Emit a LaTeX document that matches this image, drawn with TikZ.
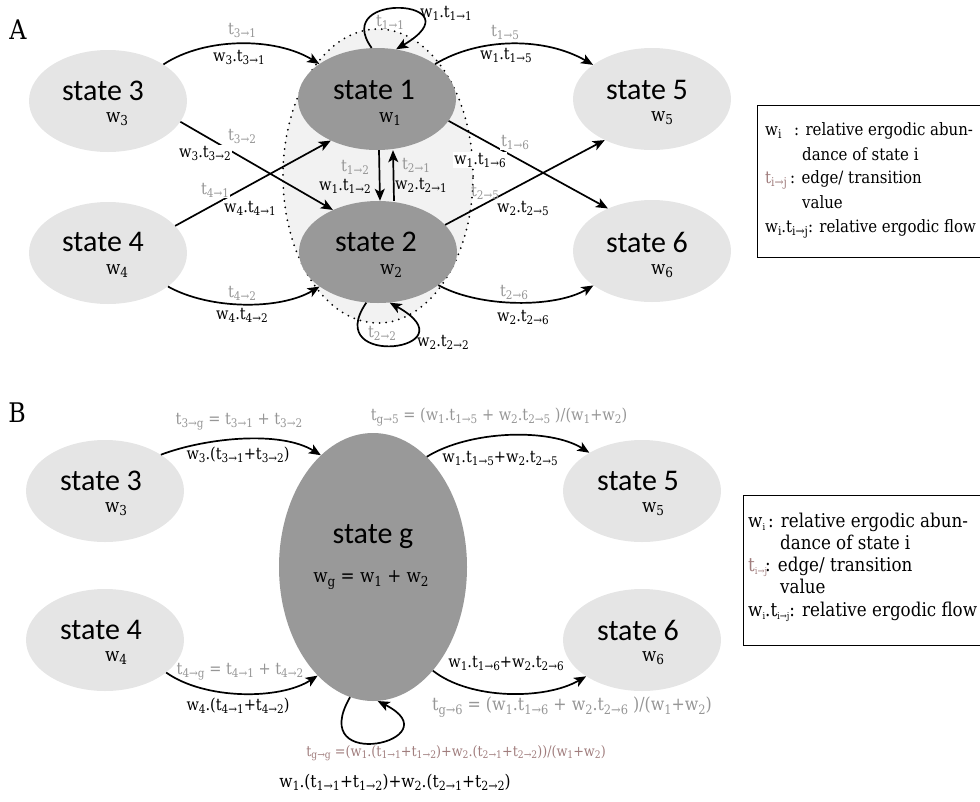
\documentclass[tikz,border=0pt]{standalone}
\usepackage{fontspec}
\setmainfont{DejaVu Serif}[FakeStretch=0.88]
\newfontfamily\statefont{Carlito}
\usetikzlibrary{arrows.meta,shapes.geometric}
\definecolor{stlight}{RGB}{229,229,229}
\definecolor{stdark}{RGB}{153,153,153}
\definecolor{regionc}{RGB}{242,242,242}
\definecolor{lblgray}{RGB}{150,150,150}
\definecolor{tbrown}{RGB}{160,125,125}
\makeatletter
\newcommand\sbsc[2]{\raisebox{-0.35ex}{\fontsize{\the\dimexpr\f@size pt*#1/100\relax}{0pt}\selectfont #2}}
\makeatother
\newcommand\sbs[1]{\sbsc{72}{#1}}
\newcommand\tij[2]{t\sbs{#1→#2}}
\newcommand\wi[1]{w\sbs{#1}}
\tikzset{
 st/.style={ellipse, fill=stlight, minimum width=158pt, minimum height=102pt, inner sep=0pt},
 stdk/.style={st, fill=stdark},
 sname/.style={font=\statefont\fontsize{30}{32}\selectfont, inner sep=0pt},
 wlab/.style={font=\fontsize{19}{21}\selectfont, inner sep=0pt},
 el/.style={font=\fontsize{16.5}{18}\selectfont, inner sep=1pt},
 elg/.style={el, text=lblgray},
 wf/.style={fill=white},
 edge/.style={line width=1.7pt, -{Stealth[length=12pt,width=10pt,inset=3pt]}},
 panel/.style={font=\fontsize{27}{29}\selectfont},
 legA/.style={font=\fontsize{17}{20}\selectfont, anchor=base west, inner sep=0pt},
 legB/.style={font=\fontsize{19}{22}\selectfont, anchor=base west, inner sep=0pt},
 legbox/.style={draw, line width=1.2pt, anchor=north west, inner sep=0pt},
}
\begin{document}
\begin{tikzpicture}[x=1pt,y=-1pt]
\useasboundingbox (0,0) rectangle (980,801);
% ---------------- Panel A ----------------
\node[panel] (pA) at (18,30) {A};
\node[ellipse, fill=regionc, draw, line width=2pt, line cap=round, dash pattern=on 0pt off 6.5pt,
      minimum width=190pt, minimum height=294pt, inner sep=0pt] (reg) at (378,176) {};
\node[st] (s3) at (108,101) {};
\node[st] (s4) at (108,253) {};
\node[stdk] (s1) at (377,99) {};
\node[stdk] (s2) at (378,252) {};
\node[st] (s5) at (652,99) {};
\node[st] (s6) at (652,251) {};
\node[sname] (s3n) at (103,91) {state 3};
\node[wlab] (s3w) at (117,119) {\wi{3}};
\node[sname] (s4n) at (103,242) {state 4};
\node[wlab] (s4w) at (117,271) {\wi{4}};
\node[sname] (s1n) at (374,90) {state 1};
\node[wlab] (s1w) at (390,119) {\wi{1}};
\node[sname] (s2n) at (376,242) {state 2};
\node[wlab] (s2w) at (391,271) {\wi{2}};
\node[sname] (s5n) at (647,90) {state 5};
\node[wlab] (s5w) at (662,118) {\wi{5}};
\node[sname] (s6n) at (647,242) {state 6};
\node[wlab] (s6w) at (662,271) {\wi{6}};
% edges
\draw[edge] (s3) .. controls (205,37) and (275,37) .. (s1);
\draw[edge] (s4) .. controls (210,310) and (280,310) .. (s2);
\draw[edge] (s1) .. controls (480,37) and (545,37) .. (s5);
\draw[edge] (s2) .. controls (480,308) and (555,308) .. (s6);
\draw[edge] (s3.-16) -- (s2.137);
\draw[edge] (s4.22) -- (s1.222);
\draw[edge] (s1.-17) -- (s6.136);
\draw[edge] (s2.22) -- (s5.221);
\draw[edge] ([xshift=2pt]s1.south) -- ([xshift=2pt]s2.north);
\draw[edge] ([xshift=16pt]s2.north) -- ([xshift=16pt]s1.south);
\draw[edge] (s1.96) .. controls (330,-10) and (480,0) .. (s1.69);
\draw[edge] (s2.257) .. controls (320,370) and (475,350) .. (s2.283);
% labels
\node[elg] (a1) at (242,30) {\tij{3}{1}};
\node[el] (a2) at (239,57) {\wi{3}.\tij{3}{1}};
\node[elg] (a3) at (242,136) {\tij{3}{2}};
\node[el,wf] (a4) at (205,153) {\wi{3}.\tij{3}{2}};
\node[elg,wf] (a5) at (215,190) {\tij{4}{1}};
\node[el,wf] (a6) at (250,208) {\wi{4}.\tij{4}{1}};
\node[elg] (a7) at (242,293) {\tij{4}{2}};
\node[el] (a8) at (242,315) {\wi{4}.\tij{4}{2}};
\node[elg] (a9) at (390,22) {\tij{1}{1}};
\node[el] (a10) at (446,13) {\wi{1}.\tij{1}{1}};
\node[elg] (a11) at (355,167) {\tij{1}{2}};
\node[el] (a12) at (345,186) {\wi{1}.\tij{1}{2}};
\node[elg] (a13) at (416,165) {\tij{2}{1}};
\node[el] (a14) at (421,185) {\wi{2}.\tij{2}{1}};
\node[elg] (a15) at (382,333) {\tij{2}{2}};
\node[el] (a16) at (443,342) {\wi{2}.\tij{2}{2}};
\node[elg] (a17) at (505,32) {\tij{1}{5}};
\node[el] (a18) at (506,55) {\wi{1}.\tij{1}{5}};
\node[elg,wf] (a19) at (515,142) {\tij{1}{6}};
\node[el,wf] (a20) at (480,160) {\wi{1}.\tij{1}{6}};
\node[elg] (a21) at (485,192) {\tij{2}{5}};
\node[el,wf] (a22) at (523,208) {\wi{2}.\tij{2}{5}};
\node[elg] (a23) at (514,292) {\tij{2}{6}};
\node[el] (a24) at (523,317) {\wi{2}.\tij{2}{6}};
% legend A
\node[legbox, minimum width=223pt, minimum height=152pt] (lgA) at (757,105) {};
\node[legA] (lA1) at (765,135) {\wi{i}};
\node[legA] (lA2) at (794,135) {: relative ergodic abun-};
\node[legA] (lA3) at (802,160) {dance of state i};
\node[legA, text=tbrown] (lA4) at (765,183) {\tij{i}{j}};
\node[legA] (lA5) at (790,183) {: edge/ transition};
\node[legA] (lA6) at (802,208) {value};
\node[legA] (lA7) at (765,232) {\wi{i}.\tij{i}{j}: relative ergodic flow};
% ---------------- Panel B ----------------
\node[panel] (pB) at (17,413) {B};
\node[st] (g3) at (105,491) {};
\node[st] (g4) at (105,640) {};
\node[st] (g5) at (642,491) {};
\node[st] (g6) at (642,640) {};
\node[ellipse, fill=stdark, minimum width=188pt, minimum height=268pt, inner sep=0pt] (gg) at (373,567) {};
\node[sname] (g3n) at (101,481) {state 3};
\node[wlab] (g3w) at (116,509) {\wi{3}};
\node[sname] (g4n) at (101,630) {state 4};
\node[wlab] (g4w) at (116,658) {\wi{4}};
\node[sname] (g5n) at (638,481) {state 5};
\node[wlab] (g5w) at (653,509) {\wi{5}};
\node[sname] (g6n) at (638,630) {state 6};
\node[wlab] (g6w) at (653,658) {\wi{6}};
\node[sname] (ggn) at (373,537) {state g};
\node[wlab] (ggw) at (371,580) {\wi{g} = \wi{1} + \wi{2}};
% edges B
\draw[edge] (g3.33) .. controls (205,438) and (280,430) .. (gg.115);
\draw[edge] (gg.64) .. controls (470,430) and (550,428) .. (g5.144);
\draw[edge] (g4.-28) .. controls (205,700) and (280,700) .. (gg.243);
\draw[edge] (gg.-60) .. controls (470,700) and (545,700) .. (g6.213);
\draw[edge] (gg.260) .. controls (305,775) and (455,740) .. (gg.272);
% labels B
\node[elg] (b1) at (239,422) {\tij{3}{g} = \tij{3}{1} + \tij{3}{2}};
\node[el] (b2) at (238,455) {\wi{3}.(\tij{3}{1}+\tij{3}{2})};
\node[elg] (b3) at (499,417) {\tij{g}{5} = (\wi{1}.\tij{1}{5} + \wi{2}.\tij{2}{5} )/(\wi{1}+\wi{2})};
\node[el] (b4) at (500,458) {\wi{1}.\tij{1}{5}+\wi{2}.\tij{2}{5}};
\node[elg] (b5) at (240,672) {\tij{4}{g} = \tij{4}{1} + \tij{4}{2}};
\node[el] (b6) at (238,706) {\wi{4}.(\tij{4}{1}+\tij{4}{2})};
\node[el] (b7) at (506,663) {\wi{1}.\tij{1}{6}+\wi{2}.\tij{2}{6}};
\node[elg, font=\fontsize{18}{20}\selectfont] (b8) at (572,707) {\tij{g}{6} = (\wi{1}.\tij{1}{6} + \wi{2}.\tij{2}{6} )/(\wi{1}+\wi{2})};
\node[el, text=tbrown, font=\fontsize{14.5}{16}\selectfont] (b9) at (456,753) {\tij{g}{g} =(\wi{1}.(\tij{1}{1}+\tij{1}{2})+\wi{2}.(\tij{2}{1}+\tij{2}{2}))/(\wi{1}+\wi{2})};
\node[el, font=\fontsize{17.5}{19}\selectfont] (b10) at (395,782) {\wi{1}.(\tij{1}{1}+\tij{1}{2})+\wi{2}.(\tij{2}{1}+\tij{2}{2})};
% legend B
\node[legbox, minimum width=237pt, minimum height=150pt] (lgB) at (743,495) {};
\node[legB] (lB1) at (748,527) {w\sbsc{50}{i}};
\node[legB] (lB2) at (768,527) {: relative ergodic abun-};
\node[legB] (lB3) at (780,549) {dance of state i};
\node[legB, text=tbrown] (lB4) at (748,571) {t\sbsc{50}{i→j}};
\node[legB] (lB5) at (765,571) {: edge/ transition};
\node[legB] (lB6) at (780,593) {value};
\node[legB] (lB7) at (748,616) {w\sbsc{50}{i}.t\sbsc{50}{i→j}: relative ergodic flow};
\end{tikzpicture}
\end{document}
